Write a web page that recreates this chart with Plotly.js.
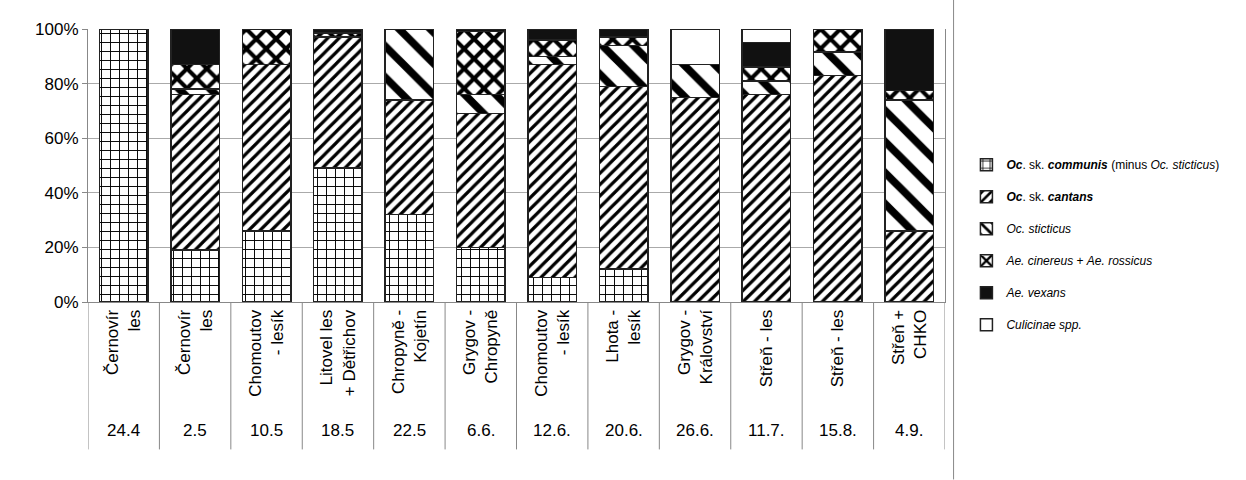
<!DOCTYPE html>
<html>
<head>
<meta charset="utf-8">
<script src="https://cdn.plot.ly/plotly-3.0.1.min.js"></script>
<style>body{margin:0;background:#fff}</style>
</head>
<body>
<div id="chart" style="width:1246px;height:480px"></div>
<script>
var sites = ["Černovír<br>les", "Černovír<br>les", "Chomoutov<br>- lesík", "Litovel les<br>+ Dětřichov", "Chropyně -<br>Kojetín",
  "Grygov -<br>Chropyně", "Chomoutov<br>- lesík", "Lhota -<br>lesík", "Grygov -<br>Království", "Střeň - les", "Střeň - les", "Střeň +<br>CHKO"];
var dates = ["24.4", "2.5", "10.5", "18.5", "22.5", "6.6.", "12.6.", "20.6.", "26.6.", "11.7.", "15.8.", "4.9."];

var communis  = [100, 19, 26, 49, 32, 20, 9, 12, 0, 0, 0, 0];
var cantans   = [0, 57, 61, 48, 42, 49, 78, 67, 75, 76, 83, 26];
var sticticus = [0, 2, 0, 0, 26, 7, 3, 15, 12, 5, 8.5, 48];
var cinereus  = [0, 9, 13, 1.5, 0, 23, 6, 3, 0, 5, 8.5, 3.5];
var vexans    = [0, 13, 0, 1.5, 0, 1, 4, 3, 0, 9, 0, 22.5];
var culicinae = [0, 0, 0, 0, 0, 0, 0, 0, 13, 5, 0, 0];

var x = sites.map(function (s, i) { return i; });

function serie(name, vals, fill, shape, size, sol) {
  return {
    type: 'bar', name: name, x: x, y: vals, legendgroup: name,
    marker: {
      color: fill,
      line: {color: '#222', width: 1.5},
      pattern: shape ? {shape: shape, fgcolor: '#000', bgcolor: '#fff', size: size, solidity: sol, fillmode: 'replace'} : undefined
    },
    hoverinfo: 'y'
  };
}

var data = [
  serie('<b><i>Oc</i></b>. sk. <b><i>communis</i></b> (minus <i>Oc. sticticus</i>)', communis, '#fff', '+', 9, 0.2),
  serie('<b><i>Oc</i></b>. sk. <b><i>cantans</i></b>', cantans, '#fff', '/', 8, 0.4),
  serie('<i>Oc. sticticus</i>', sticticus, '#fff', '\\', 22, 0.35),
  serie('<i>Ae. cinereus</i> + <i>Ae. rossicus</i>', cinereus, '#fff', 'x', 14, 0.5),
  serie('<i>Ae. vexans</i>', vexans, '#111', null),
  serie('<i>Culicinae spp.</i>', culicinae, '#fff', null)
];

var shapes = [];
for (var i = 0; i <= sites.length; i++) {
  shapes.push({type: 'line', xref: 'x', yref: 'paper', x0: i - 0.5, x1: i - 0.5, y0: 0, y1: -0.54,
    line: {color: '#888', width: 1}});
}
shapes.push({type: 'line', xref: 'paper', yref: 'paper', x0: 1.01, x1: 1.01, y0: 1.11, y1: -0.65,
  line: {color: '#888', width: 1}});

var annotations = dates.map(function (d, i) {
  return {x: i, y: -0.47, xref: 'x', yref: 'paper', text: d, showarrow: false,
    font: {size: 17}, yanchor: 'middle'};
});

var layout = {
  barmode: 'stack',
  bargap: 0.32,
  margin: {l: 88, r: 301, t: 29, b: 178},
  font: {family: 'Liberation Sans, Arial, sans-serif', color: '#000'},
  plot_bgcolor: '#fff',
  paper_bgcolor: '#fff',
  showlegend: true,
  legend: {traceorder: 'grouped', x: 1.025, y: 0.21, yanchor: 'middle', font: {size: 12}, tracegroupgap: 13, itemwidth: 30},
  xaxis: {
    tickvals: x, ticktext: sites, tickangle: -90, range: [-0.5, 11.5],
    tickfont: {size: 17}, showline: true, linecolor: '#888', ticks: '', showgrid: false, fixedrange: true
  },
  yaxis: {
    range: [0, 100], tickvals: [0, 20, 40, 60, 80, 100], ticktext: ['0%', '20%', '40%', '60%', '80%', '100%'],
    tickfont: {size: 17}, showgrid: true, gridcolor: '#aaa', showline: true, linecolor: '#888', mirror: true,
    ticks: 'outside', ticklen: 5, tickcolor: '#888', zeroline: false
  },
  shapes: shapes,
  annotations: annotations
};

Plotly.newPlot('chart', data, layout, {displayModeBar: false, staticPlot: true});
</script>
</body>
</html>
